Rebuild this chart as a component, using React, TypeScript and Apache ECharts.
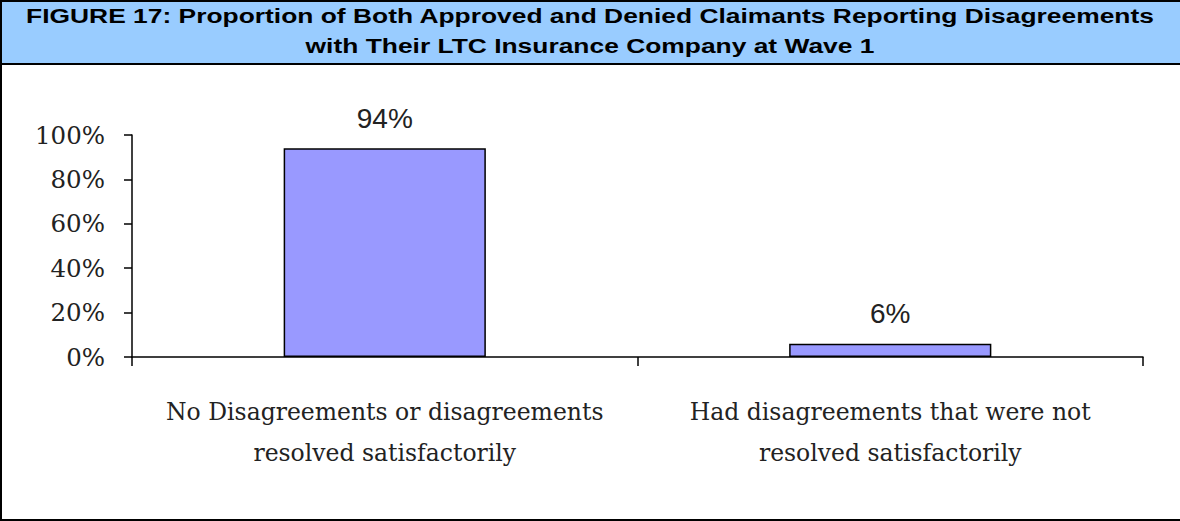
import React, { useEffect, useRef } from "react";
import * as echarts from "echarts";

const titleLines = [
  "FIGURE 17: Proportion of Both Approved and Denied Claimants Reporting Disagreements",
  "with Their LTC Insurance Company at Wave 1",
];
const categories = [
  "No Disagreements or disagreements\nresolved satisfactorily",
  "Had disagreements that were not\nresolved satisfactorily",
];
const values = [94, 6];
const yTicks = { min: 0, max: 100, interval: 20 };

export default function App() {
  const ref = useRef<HTMLDivElement>(null);
  useEffect(() => {
    if (!ref.current) return;
    const chart = echarts.init(ref.current, null, { renderer: "svg" });
    chart.setOption({
      animation: false,
      backgroundColor: "#ffffff",
      graphic: [
        { type: "rect", shape: { x: 0, y: 0, width: 1180, height: 64 }, style: { fill: "#99CCFF" }, z: 0 },
        { type: "rect", shape: { x: 0, y: 63, width: 1180, height: 2 }, style: { fill: "#000" }, z: 1 },
        { type: "rect", shape: { x: 0, y: 0, width: 1180, height: 2 }, style: { fill: "#000" }, z: 1 },
        { type: "rect", shape: { x: 0, y: 0, width: 2, height: 521 }, style: { fill: "#000" }, z: 1 },
        { type: "rect", shape: { x: 0, y: 519, width: 1180, height: 2 }, style: { fill: "#000" }, z: 1 },
        ...titleLines.map((t, i) => ({
          type: "text",
          x: 590,
          y: 16 + i * 30,
          scaleX: 1.32,
          z: 2,
          style: {
            text: t,
            fill: "#000",
            font: "bold 20px 'Liberation Sans', Arial, sans-serif",
            textAlign: "center",
            textVerticalAlign: "middle",
          },
        })),
      ],
      grid: { left: 132, right: 37, top: 135, bottom: 164, containLabel: false },
      xAxis: {
        type: "category",
        data: categories,
        boundaryGap: true,
        axisLine: { lineStyle: { color: "#000", width: 1.5 } },
        axisTick: { show: true, length: 9, lineStyle: { color: "#000", width: 1.5 } },
        axisLabel: {
          margin: 34,
          color: "#222",
          fontFamily: "'DejaVu Serif', serif",
          fontSize: 23.5,
          lineHeight: 41,
          interval: 0,
        },
      },
      yAxis: {
        type: "value",
        min: yTicks.min,
        max: yTicks.max,
        interval: yTicks.interval,
        splitLine: { show: false },
        axisLine: { show: true, lineStyle: { color: "#000", width: 1.5 } },
        axisTick: { show: true, length: 8, lineStyle: { color: "#000", width: 1.5 } },
        axisLabel: {
          margin: 27,
          color: "#222",
          fontFamily: "'DejaVu Serif', serif",
          fontSize: 24.5,
          formatter: "{value}%",
        },
      },
      series: [
        {
          type: "bar",
          data: values,
          barWidth: "40%",
          itemStyle: { color: "#9999FF", borderColor: "#000", borderWidth: 1.5 },
          label: {
            show: true,
            position: "top",
            distance: 16,
            formatter: "{c}%",
            color: "#222",
            fontFamily: "'Liberation Sans', Arial, sans-serif",
            fontSize: 28,
          },
        },
      ],
    });
    return () => chart.dispose();
  }, []);
  return <div ref={ref} style={{ position: "absolute", left: 0, top: 0, width: 1180, height: 521 }} />;
}
